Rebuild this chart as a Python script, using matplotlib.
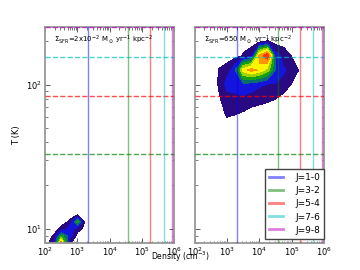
import numpy as np
import matplotlib
matplotlib.use("Agg")
import matplotlib.pyplot as plt

# CO ladder: critical densities (vertical) and upper level energies (horizontal)
transitions = ["J=1-0", "J=3-2", "J=5-4", "J=7-6", "J=9-8"]
line_colors = ["b", "g", "r", "c", "m"]
crit_density = [2.1e3, 3.7e4, 1.8e5, 4.7e5, 8.5e5]
upper_energy = [5.53, 33.19, 82.97, 154.87, 248.88]

panel_labels = [
    r"$\Sigma_{\rm SFR}$=2x10$^{-2}$ M$_\odot$ yr$^{-1}$ kpc$^{-2}$",
    r"$\Sigma_{\rm SFR}$=650 M$_\odot$ yr$^{-1}$ kpc$^{-2}$",
]

# gas mass distribution in (log n, log T), low SFR galaxy
logn_lo = [1.75, 2.0, 2.25, 2.5, 2.75, 3.0, 3.25, 3.5]
logT_lo = [0.80, 0.85, 0.90, 0.95, 1.00, 1.05, 1.10, 1.15]
mass_lo = [
    [0, 0.3, 3.0, 7.0, 4.0, 1.0, 0, 0],
    [0, 0.2, 2.5, 9.0, 4.0, 0.8, 0, 0],
    [0, 0.0, 1.5, 7.5, 0.6, 0.0, 0, 0],
    [0, 0.0, 0.6, 4.0, 2.0, 0.0, 0, 0],
    [0, 0.0, 0.0, 0.8, 2.0, 1.0, 0, 0],
    [0, 0.0, 0.0, 0.0, 0.7, 4.0, 0, 0],
    [0, 0.0, 0.0, 0.0, 0.0, 0.4, 0, 0],
    [0, 0.0, 0.0, 0.0, 0.0, 0.0, 0, 0],
]

# high SFR galaxy
logn_hi = [2.5, 2.75, 3.0, 3.25, 3.5, 3.75, 4.0, 4.25, 4.5, 4.75, 5.0, 5.25, 5.5]
logT_hi = [1.6, 1.7, 1.8, 1.9, 2.0, 2.1, 2.2, 2.3, 2.4]
mass_hi = [
    [0, 0.0, 0.0, 0.0, 0.0, 0.0, 0.0, 0.0, 0.0, 0.0, 0.0, 0.0, 0],
    [0, 0.0, 0.0, 0.0, 0.0, 0.0, 0.0, 0.0, 0.0, 0.0, 0.0, 0.0, 0],
    [0, 0.0, 0.71, 0.56, 0.4, 0.1, 0.0, 0.0, 0.0, 0.0, 0.0, 0.0, 0],
    [0, 0.4, 1.0, 1.2, 1.3, 1.1, 0.9, 0.67, 0.52, 0.0, 0.0, 0.0, 0],
    [0, 0.6, 2.0, 2.0, 2.2, 2.0, 1.7, 1.4, 1.4, 1.3, 0.45, 0.0, 0],
    [0, 0.55, 0.9, 2.5, 6.0, 7.0, 6.3, 5.0, 2.5, 1.6, 1.2, 0.35, 0],
    [0, 0.0, 0.0, 0.0, 0.61, 1.11, 6.8, 8.5, 2.0, 1.1, 0.45, 0.0, 0],
    [0, 0.0, 0.0, 0.0, 0.0, 0.0, 0.0, 0.55, 0.0, 0.0, 0.0, 0.0, 0],
    [0, 0.0, 0.0, 0.0, 0.0, 0.0, 0.0, 0.0, 0.0, 0.0, 0.0, 0.0, 0],
]

levels = [0.5, 1.5, 2.5, 3.5, 4.5, 5.5, 6.5, 7.5, 9.5]
band_colors = ["#2a0a82", "#1414dc", "#0a6e6e", "#14a014",
               "#a0d200", "#fff500", "#ff9600", "#ff3200"]

fig, axes = plt.subplots(1, 2, figsize=(3.6, 2.7), dpi=100)
fig.subplots_adjust(left=0.125, right=0.9, bottom=0.1, top=0.9, wspace=0.155)

grids = [(logn_lo, logT_lo, mass_lo), (logn_hi, logT_hi, mass_hi)]

for i, ax in enumerate(axes):
    ln, lt, z = grids[i]
    N, T = np.meshgrid(10 ** np.array(ln), 10 ** np.array(lt))
    ax.contourf(N, T, np.array(z), levels=levels, colors=band_colors, zorder=1)

    for c, nc, eu, lab in zip(line_colors, crit_density, upper_energy, transitions):
        ax.axvline(nc, color=c, lw=1.0, alpha=0.5, label=lab, zorder=3)
        ax.axhline(eu, color=c, lw=1.0, ls="--", alpha=0.7, zorder=3)

    ax.set_xscale("log")
    ax.set_yscale("log")
    ax.set_xlim(1e2, 1e6)
    ax.set_ylim(8, 250)
    ax.tick_params(which="both", direction="in", top=True, right=True,
                   labelsize=6, color="#444444", pad=2)
    ax.tick_params(which="major", length=3.5, width=0.6)
    ax.tick_params(which="minor", length=1.8, width=0.5)
    for sp in ax.spines.values():
        sp.set_color("#999999")
        sp.set_linewidth(1.3)
    ax.text(0.07, 0.94, panel_labels[i], transform=ax.transAxes,
            fontsize=5, va="center", ha="left")

axes[1].tick_params(axis="y", which="both", labelleft=False)
axes[0].set_ylabel("T (K)", fontsize=6, labelpad=4)

leg = axes[1].legend(loc="lower right", bbox_to_anchor=(1.0, 0.02),
                     fontsize=6.5, fancybox=False,
                     handlelength=1.6, borderpad=0.45, labelspacing=0.45,
                     handletextpad=1.3, borderaxespad=0.0, framealpha=1)
leg.get_frame().set_edgecolor("#444444")
leg.get_frame().set_linewidth(1.0)
for h in leg.get_lines():
    h.set_linewidth(2.0)

fig.text(0.5, 0.05, r"Density (cm$^{-3}$)", fontsize=5.5, ha="center", va="center")

fig.savefig("out.png", dpi=100)
